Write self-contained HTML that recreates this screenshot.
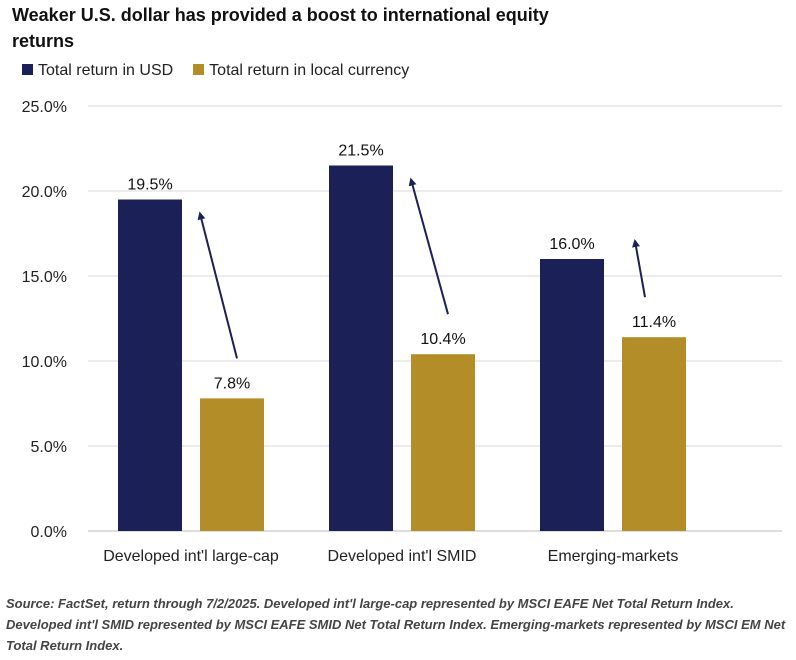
<!DOCTYPE html>
<html><head><meta charset="utf-8"><style>
body{margin:0;background:#fff;width:796px;height:660px;overflow:hidden;font-family:"Liberation Sans",sans-serif}
#title{position:absolute;left:12px;top:2px;font-size:18px;font-weight:bold;line-height:26px;color:#111;width:600px}
#legend{position:absolute;left:22px;top:62px;font-size:16px;color:#222;display:flex;gap:20px}
.sw{display:inline-block;width:11px;height:11px;margin-right:5px}
#src{position:absolute;left:6px;top:593px;width:786px;font-size:13px;font-style:italic;font-weight:bold;color:#444;line-height:21px}
svg{position:absolute;left:0;top:0}
</style></head><body>
<div id="title">Weaker U.S. dollar has provided a boost to international equity returns</div>
<div id="legend">
<span><span class="sw" style="background:#1b2057"></span>Total return in USD</span>
<span><span class="sw" style="background:#b38d28"></span>Total return in local currency</span>
</div>
<svg id="chart" width="796" height="660"></svg>
<div id="src">Source: FactSet, return through 7/2/2025. Developed int'l large-cap represented by MSCI EAFE Net Total Return Index. Developed int'l SMID represented by MSCI EAFE SMID Net Total Return Index. Emerging-markets represented by MSCI EM Net Total Return Index.</div>
<script>
const categories=["Developed int'l large-cap","Developed int'l SMID","Emerging-markets"];
const usd=[19.5,21.5,16.0];
const local=[7.8,10.4,11.4];
const ticks=[0,5,10,15,20,25];
const NS="http://www.w3.org/2000/svg";
const svg=document.getElementById('chart');
const y=v=>531-v*17;
const cx=i=>191+i*211;
function mk(t,a){const e=document.createElementNS(NS,t);for(const k in a)e.setAttribute(k,a[k]);svg.appendChild(e);return e;}
const defs=mk('defs',{});
const m=document.createElementNS(NS,'marker');
[['id','ah'],['markerWidth','8'],['markerHeight','8'],['refX','6'],['refY','4'],['orient','auto'],['markerUnits','userSpaceOnUse']].forEach(([k,v])=>m.setAttribute(k,v));
const mp=document.createElementNS(NS,'path');mp.setAttribute('d','M0,0 L8,4 L0,8 Z');mp.setAttribute('fill','#1b2057');m.appendChild(mp);defs.appendChild(m);
ticks.forEach(t=>{
 const g=mk('line',{x1:88,x2:782,y1:y(t),y2:y(t),stroke:t===0?'#bbb':'#d9d9d9','stroke-width':1});
 
 
 const l=mk('text',{x:67,y:y(t)+6,'text-anchor':'end','font-size':16,fill:'#222'});l.textContent=t.toFixed(1)+'%';
 
 
});
categories.forEach((c,i)=>{
 const x=cx(i);
 const b1=mk('rect',{x:x-73,y:y(usd[i]),width:64,height:y(0)-y(usd[i]),fill:'#1b2057'});
 
 
 const b2=mk('rect',{x:x+9,y:y(local[i]),width:64,height:y(0)-y(local[i]),fill:'#b38d28'});
 
 
 const t1=mk('text',{x:x-41,y:y(usd[i])-10,'text-anchor':'middle','font-size':16,fill:'#111'});t1.textContent=usd[i].toFixed(1)+'%';
 
 
 const t2=mk('text',{x:x+41,y:y(local[i])-10,'text-anchor':'middle','font-size':16,fill:'#111'});t2.textContent=local[i].toFixed(1)+'%';
 
 
 const xl=mk('text',{x:x,y:561,'text-anchor':'middle','font-size':16,fill:'#222'});xl.textContent=c;
 
 
 const a=mk('line',{x1:x+46,y1:y(local[i])-40,x2:x+9,y2:y(usd[i])+14,stroke:'#1b2057','stroke-width':2,'marker-end':'url(#ah)'});
 if(i===2){a.setAttribute('x2',x+22);a.setAttribute('y2',y(usd[i])-18);a.setAttribute('x1',x+32);}
 
 
});
</script>
</body></html>
